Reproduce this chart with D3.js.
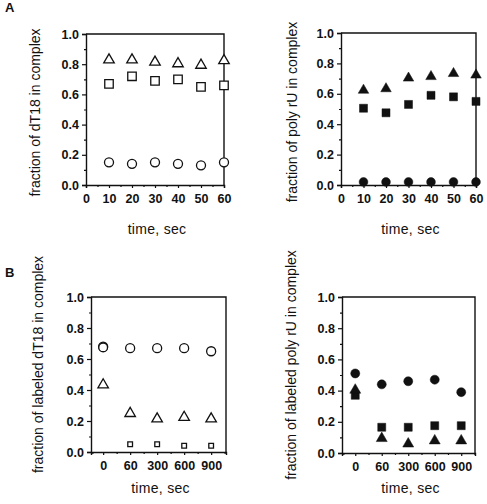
<!DOCTYPE html>
<html><head><meta charset="utf-8">
<script src="https://cdn.jsdelivr.net/npm/d3@7"></script>
<style>
html,body{margin:0;padding:0;background:#fff;}
svg{display:block;}
text{font-family:"Liberation Sans",Arial,Helvetica,sans-serif;fill:#111;}
</style></head>
<body>
<svg id="chart" width="487" height="504"></svg>
<script>
// ---------- DATA ----------
const timeA = [10, 20, 30, 40, 50, 60];
const timeATicks = [0, 10, 20, 30, 40, 50, 60];
const timeB = ["0", "60", "300", "600", "900"];
const yTicks = [0, 0.2, 0.4, 0.6, 0.8, 1.0];

// Panel A left: fraction of dT18 in complex (open symbols)
const aL_triangle = [0.835, 0.835, 0.82, 0.81, 0.80, 0.83];
const aL_square   = [0.67, 0.72, 0.69, 0.70, 0.65, 0.66];
const aL_circle   = [0.15, 0.14, 0.15, 0.14, 0.13, 0.15];

// Panel A right: fraction of poly rU in complex (filled symbols)
const aR_triangle = [0.63, 0.64, 0.71, 0.72, 0.74, 0.73];
const aR_square   = [0.505, 0.475, 0.53, 0.59, 0.58, 0.55];
const aR_circle   = [0.02, 0.02, 0.02, 0.02, 0.02, 0.02];

// Panel B left: fraction of labeled dT18 in complex (open symbols)
const bL_circle   = [0.68, 0.67, 0.67, 0.67, 0.65];
const bL_circle2  = [0.675, null, null, null, null];
const bL_triangle = [0.44, 0.255, 0.22, 0.23, 0.22];
const bL_square   = [null, 0.05, 0.05, 0.04, 0.04];

// Panel B right: fraction of labeled poly rU in complex (filled symbols)
const bR_circle   = [0.51, 0.44, 0.46, 0.47, 0.39];
const bR_triangle = [0.41, 0.10, 0.065, 0.085, 0.085];
const bR_square   = [0.37, 0.165, 0.165, 0.175, 0.175];

const yTitles = ["fraction of dT18 in complex", "fraction of poly rU in complex",
                 "fraction of labeled dT18 in complex", "fraction of labeled poly rU in complex"];
const xTitle = "time, sec";
const panelLetters = ["A", "B"];

// ---------- DRAWING ----------
const svg = d3.select("#chart");

function drawPanel(p) {
  const g = svg.append("g");
  const x = p.x, y = p.y;
  const [x0, x1] = x.range();
  const [y0, y1] = y.range(); // y0 bottom
  // frame top & right
  g.append("path")
    .attr("d", `M${x0},${y1}H${x1}V${y0}`)
    .attr("fill", "none").attr("stroke", "#111").attr("stroke-width", 1.4);

  // y axis
  const yAx = g.append("g").attr("transform", `translate(${x0},0)`)
    .call(d3.axisLeft(y).tickValues(yTicks).tickFormat(d3.format(".1f")).tickSize(4).tickPadding(3));
  // y minor ticks
  g.append("g").attr("transform", `translate(${x0},0)`)
    .call(d3.axisLeft(y).tickValues([0.1, 0.3, 0.5, 0.7, 0.9]).tickFormat("").tickSize(2))
    .call(s => s.select(".domain").remove());

  // x axis
  const xAx = g.append("g").attr("transform", `translate(0,${y0})`)
    .call(p.xAxis);
  g.append("g").attr("transform", `translate(0,${y0})`)
    .call(p.xMinor)
    .call(s => s.select(".domain").remove());

  g.selectAll(".domain").attr("stroke", "#111").attr("stroke-width", 1.4);
  g.selectAll(".tick line").attr("stroke", "#111").attr("stroke-width", 1.2);
  g.selectAll(".tick text").attr("font-size", 12.5).attr("font-weight", "bold")
    .attr("font-family", "'Liberation Sans',Arial,sans-serif").attr("fill", "#111");
  xAx.selectAll(".tick text").attr("dy", "0.95em");

  // titles
  g.append("text")
    .attr("transform", `translate(${p.yTitleX},${(y0 + y1) / 2 + p.yTitleShift}) rotate(-90)`)
    .attr("text-anchor", "middle").attr("font-size", 14).attr("dy", "0.35em")
    .text(p.yTitle);
  g.append("text")
    .attr("x", (x0 + x1) / 2 + 2).attr("y", p.xTitleY)
    .attr("text-anchor", "middle").attr("font-size", 14).attr("dy", "0.35em")
    .attr("letter-spacing", "0.3px")
    .text(xTitle);

  // series
  p.series.forEach(s => {
    const sym = d3.symbol().type(s.type).size(s.size);
    g.selectAll(null)
      .data(s.values.map((v, i) => ({ xv: p.xs[i], v })).filter(d => d.v != null))
      .join("path")
      .attr("d", sym)
      .attr("transform", d => `translate(${p.xpos(d.xv)},${y(d.v) + (s.dy || 0)})`)
      .attr("fill", s.filled ? "#111" : "#fff")
      .attr("stroke", "#111")
      .attr("stroke-width", s.filled ? 0.5 : 1.3);
  });
}

const T = d3.symbolTriangle, S = d3.symbolSquare, C = d3.symbolCircle;

// Panel A left
{
  const x = d3.scaleLinear().domain([0, 60]).range([86, 224]);
  const y = d3.scaleLinear().domain([0, 1]).range([185, 34]);
  drawPanel({
    x, y, xs: timeA, xpos: x,
    xAxis: d3.axisBottom(x).tickValues(timeATicks).tickSize(3).tickPadding(3),
    xMinor: d3.axisBottom(x).tickValues([5, 15, 25, 35, 45, 55]).tickFormat("").tickSize(2),
    yTitle: yTitles[0], yTitleX: 35, yTitleShift: 3, xTitleY: 229,
    series: [
      { values: aL_triangle, type: T, size: 48, filled: false, dy: 1 },
      { values: aL_square, type: S, size: 72, filled: false },
      { values: aL_circle, type: C, size: 64, filled: false }
    ]
  });
}
// Panel A right
{
  const x = d3.scaleLinear().domain([0, 60]).range([341, 476]);
  const y = d3.scaleLinear().domain([0, 1]).range([185, 33]);
  drawPanel({
    x, y, xs: timeA, xpos: x,
    xAxis: d3.axisBottom(x).tickValues(timeATicks).tickSize(3).tickPadding(3),
    xMinor: d3.axisBottom(x).tickValues([5, 15, 25, 35, 45, 55]).tickFormat("").tickSize(2),
    yTitle: yTitles[1], yTitleX: 292, yTitleShift: 3, xTitleY: 229,
    series: [
      { values: aR_triangle, type: T, size: 48, filled: true, dy: 1 },
      { values: aR_square, type: S, size: 64, filled: true },
      { values: aR_circle, type: C, size: 60, filled: true }
    ]
  });
}
// Panel B left
{
  const xi = d3.scaleLinear().domain([-0.45, 4.55]).range([91, 226]);
  const x = d3.scalePoint().domain(timeB).range([xi(0), xi(4)]);
  const y = d3.scaleLinear().domain([0, 1]).range([452, 297]);
  drawPanel({
    x: xi, y, xs: timeB, xpos: x,
    xAxis: d3.axisBottom(xi).tickValues([0, 1, 2, 3, 4]).tickFormat(i => timeB[i]).tickSize(3).tickPadding(3),
    xMinor: d3.axisBottom(xi).tickValues([-0.4, 0.5, 1.5, 2.5, 3.5, 4.5]).tickFormat("").tickSize(2),
    yTitle: yTitles[2], yTitleX: 38, yTitleShift: -10, xTitleY: 488,
    series: [
      { values: bL_circle, type: C, size: 64, filled: false },
      { values: bL_circle2, type: C, size: 60, filled: false },
      { values: bL_triangle, type: T, size: 48, filled: false, dy: 1 },
      { values: bL_square, type: S, size: 22, filled: false }
    ]
  });
}
// Panel B right
{
  const xi = d3.scaleLinear().domain([-0.5, 4.52]).range([342, 475]);
  const x = d3.scalePoint().domain(timeB).range([xi(0), xi(4)]);
  const y = d3.scaleLinear().domain([0, 1]).range([453, 297]);
  drawPanel({
    x: xi, y, xs: timeB, xpos: x,
    xAxis: d3.axisBottom(xi).tickValues([0, 1, 2, 3, 4]).tickFormat(i => timeB[i]).tickSize(3).tickPadding(3),
    xMinor: d3.axisBottom(xi).tickValues([-0.45, 0.5, 1.5, 2.5, 3.5, 4.5]).tickFormat("").tickSize(2),
    yTitle: yTitles[3], yTitleX: 291, yTitleShift: -10, xTitleY: 488,
    series: [
      { values: bR_circle, type: C, size: 64, filled: true },
      { values: bR_square, type: S, size: 64, filled: true },
      { values: bR_triangle, type: T, size: 52, filled: true, dy: 1 }
    ]
  });
}

// panel letters
svg.selectAll(null).data(panelLetters).join("text")
  .attr("x", 5).attr("y", (d, i) => i === 0 ? 12 : 277)
  .attr("font-size", 13).attr("font-weight", "bold").text(d => d);
</script>
</body></html>
